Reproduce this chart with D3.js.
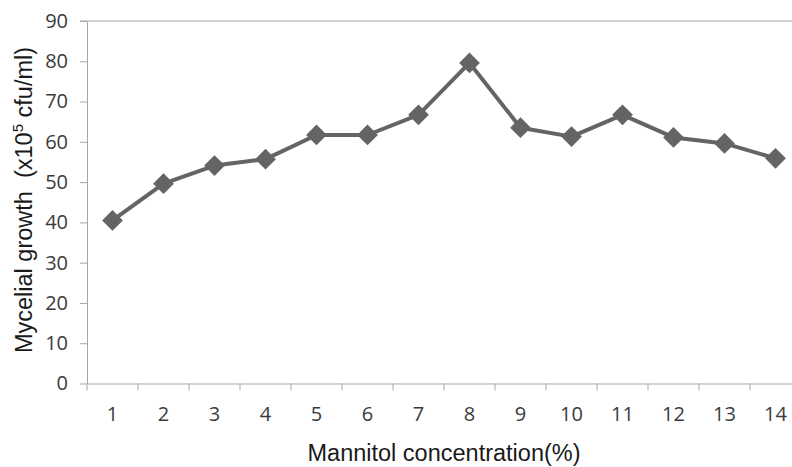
<!DOCTYPE html>
<html>
<head>
<meta charset="utf-8">
<script src="https://cdn.jsdelivr.net/npm/d3@7"></script>
<style>
  body { margin: 0; background: #fff; }
  svg { display: block; }
</style>
</head>
<body>
<svg id="chart" width="792" height="467"></svg>
<script>
// mannitol concentration (%) vs mycelial growth (x10^5 cfu/ml)
const concentrations = [1, 2, 3, 4, 5, 6, 7, 8, 9, 10, 11, 12, 13, 14];
const growth = [40.5, 49.6, 54.1, 55.7, 61.7, 61.7, 66.7, 79.6, 63.5, 61.3, 66.7, 61.1, 59.6, 55.9];
const yTicks = [0, 10, 20, 30, 40, 50, 60, 70, 80, 90];

const svg = d3.select("#chart");
const plotLeft = 87, plotBottom = 383.5, plotTop = 21, step = 51;
const axisColor = "#a6a6a6", markColor = "#646464";
const tickFont = "20px 'Open Sans', sans-serif";
const titleFont = "23.5px 'Liberation Sans', Arial, sans-serif";

const x = d3.scaleBand()
    .domain(concentrations)
    .range([plotLeft, plotLeft + step * concentrations.length]);

const y = d3.scaleLinear()
    .domain([0, 90])
    .range([plotBottom, plotTop]);

// y axis
const yAxis = svg.append("g")
    .attr("transform", "translate(" + plotLeft + ",0)")
    .call(d3.axisLeft(y).tickValues(yTicks).tickSize(7).tickSizeOuter(0).tickPadding(12));
yAxis.select(".domain").attr("stroke", axisColor);
yAxis.selectAll(".tick line").attr("stroke", axisColor);
yAxis.selectAll(".tick text")
    .attr("fill", "#3b3b3b")
    .style("font", tickFont);

// line across the top of the plot area at 90
svg.append("line")
    .attr("x1", plotLeft - 7).attr("x2", x.range()[1])
    .attr("y1", y(90)).attr("y2", y(90))
    .attr("stroke", axisColor);

// x axis, labels centred in bands, ticks on band edges
const xAxis = svg.append("g")
    .attr("transform", "translate(0," + plotBottom + ")")
    .call(d3.axisBottom(x).tickSize(0).tickPadding(23));
xAxis.select(".domain").attr("stroke", axisColor);
xAxis.selectAll(".tick text")
    .attr("fill", "#3b3b3b")
    .style("font", tickFont);

svg.append("g").selectAll("line")
    .data(concentrations)
    .join("line")
    .attr("x1", d => x(d) + x.bandwidth())
    .attr("x2", d => x(d) + x.bandwidth())
    .attr("y1", plotBottom).attr("y2", plotBottom + 7)
    .attr("stroke", axisColor);
svg.append("line")
    .attr("x1", plotLeft).attr("x2", plotLeft)
    .attr("y1", plotBottom).attr("y2", plotBottom + 7)
    .attr("stroke", axisColor);

// series
const cx = d => x(d) + x.bandwidth() / 2;
const line = d3.line()
    .x((d, i) => cx(concentrations[i]))
    .y(d => y(d));

svg.append("path")
    .datum(growth)
    .attr("d", line)
    .attr("fill", "none")
    .attr("stroke", markColor)
    .attr("stroke-width", 4)
    .attr("stroke-linejoin", "round");

svg.append("g").selectAll("path")
    .data(growth)
    .join("path")
    .attr("d", d3.symbol().type(d3.symbolSquare).size(215))
    .attr("transform", (d, i) => "translate(" + cx(concentrations[i]) + "," + y(d) + ") rotate(45)")
    .attr("fill", markColor);

// axis titles
svg.append("text")
    .attr("x", 444).attr("y", 461)
    .attr("text-anchor", "middle")
    .attr("fill", "#1a1a1a")
    .style("font", titleFont)
    .text("Mannitol concentration(%)");

const yTitle = svg.append("text")
    .attr("transform", "translate(32,200) rotate(-90)")
    .attr("text-anchor", "middle")
    .attr("fill", "#1a1a1a")
    .style("white-space", "pre")
    .style("font", titleFont);
yTitle.append("tspan").text("Mycelial growth  (x10");
yTitle.append("tspan").attr("dy", -9).style("font-size", "15px").text("5");
yTitle.append("tspan").attr("dy", 9).text(" cfu/ml)");
</script>
</body>
</html>
